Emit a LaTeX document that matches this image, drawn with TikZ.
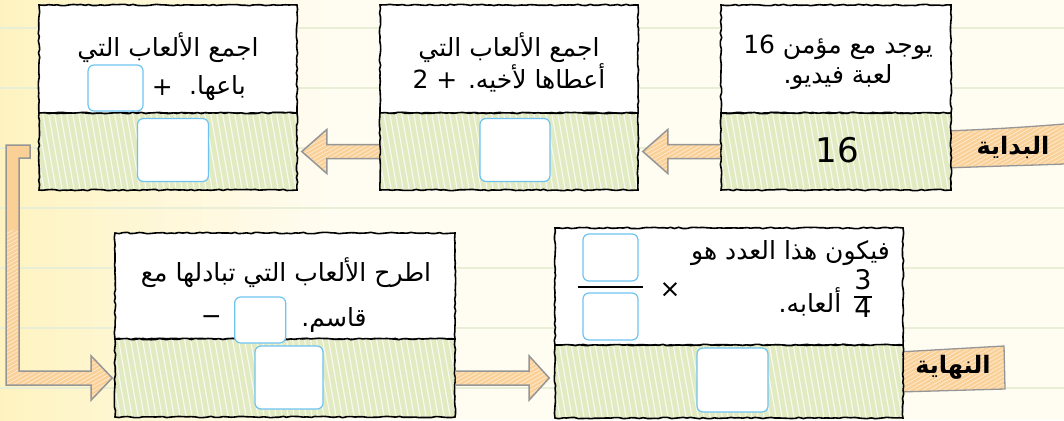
\documentclass[tikz,border=0pt]{standalone}
\usepackage{fontspec}
\setmainfont{DejaVu Sans}
\newfontfamily\arabicfont[Script=Arabic]{DejaVu Sans}
\TeXXeTstate=1
\usetikzlibrary{positioning,calc,decorations.pathmorphing}

\definecolor{paper}{RGB}{255,252,241}
\definecolor{paperyel}{RGB}{254,243,192}
\definecolor{paperline}{RGB}{232,239,214}
\definecolor{grass}{RGB}{226,234,194}
\definecolor{tape}{RGB}{250,208,150}
\definecolor{tapeedge}{RGB}{150,150,150}
\definecolor{answer}{RGB}{110,196,240}

\tikzset{
  wobbly/.style={decorate,decoration={random steps,segment length=4pt,amplitude=.7pt}},
  question/.style={draw,line width=1.6pt,wobbly,fill=white,inner sep=0pt},
  result/.style={draw,line width=1.6pt,wobbly,fill=grass,inner sep=0pt,
    path picture={\foreach \k in {0,...,62}
      \draw[white,line width=1.2pt,opacity=.75]
        ([xshift=\k*6pt]path picture bounding box.south west) -- ++(-16pt,90pt);}},
  hatch/.style={path picture={\foreach \k in {0,...,60}
      \draw[white,line width=.9pt,opacity=.5]
        ([xshift=\k*7pt-300pt]path picture bounding box.south west) -- ++(300pt,170pt);}},
  tape/.style={draw=tapeedge,line width=1.5pt,fill=tape,line join=miter,hatch},
  answerbox/.style={draw=answer,line width=1.2pt,fill=white,rounded corners=6pt,inner sep=0pt},
  say/.style={font=\arabicfont\fontsize{25}{30}\selectfont,align=center,inner sep=0pt},
  flag/.style={font=\arabicfont\bfseries\fontsize{24}{26}\selectfont,inner sep=0pt},
}

% fat arrow pointing left, from #1 (a west anchor) to #2 (an east anchor)
\newcommand\tapeleft[2]{%
  \draw[tape] let \p1=(#1), \p2=(#2) in
    (\x1,\y1+7pt) -- (\x2+29pt,\y1+7pt) -- (\x2+29pt,\y1+22pt) -- (\x2+4pt,\y1)
    -- (\x2+29pt,\y1-22pt) -- (\x2+29pt,\y1-7pt) -- (\x1,\y1-7pt);}
% fat arrow pointing right
\newcommand\taperight[2]{%
  \draw[tape] let \p1=(#1), \p2=(#2) in
    (\x1,\y1+7pt) -- (\x2-25pt,\y1+7pt) -- (\x2-25pt,\y1+22pt) -- (\x2-5pt,\y1)
    -- (\x2-25pt,\y1-22pt) -- (\x2-25pt,\y1-7pt) -- (\x1,\y1-7pt);}

\begin{document}
\begin{tikzpicture}[x=1pt,y=-1pt]
\pgfmathsetseed{7}
\useasboundingbox (0,0) rectangle (1064,420);
%%%%%%%%%%%%%%%%% paper %%%%%%%%%%%%%%%%%%%
\fill[paper] (0,0) rectangle (1064,420);
\shade[left color=paperyel,right color=paper] (0,0) rectangle (330,420);
\foreach \y in {28,88,...,388}
  \draw[paperline,line width=1.5pt] (0,\y) -- (1064,\y);

%%%%%%%%%%%%%%%%% flags %%%%%%%%%%%%%%%%%%%
\path[fill=tape,hatch] (945,131) .. controls (1000,129) and (1040,126) .. (1064,124)
  -- (1064,164) .. controls (1040,165) and (1000,166) .. (945,168) -- cycle;
\draw[tapeedge,line width=1.3pt] (945,131) .. controls (1000,129) and (1040,126) .. (1064,124);
\draw[tapeedge,line width=1.3pt] (945,168) .. controls (1000,166) and (1040,165) .. (1064,164);
\node[flag] (startflag) at (1013,147) {\beginR البداية\endR};

\path[fill=tape,hatch] (898,352) -- (1004,346) -- (1005,389) -- (898,392) -- cycle;
\draw[tapeedge,line width=1.3pt] (898,352) -- (1004,346) -- (1005,389) -- (898,392);
\node[flag] (endflag) at (953,367) {\beginR النهاية\endR};

%%%%%%%%%%%%%%%%% boxes %%%%%%%%%%%%%%%%%%%
%  name / centre x / width
\foreach \name/\cx/\w in {start/836/230,gave/509/258,sold/168/258} {
  \node[question,minimum width=\w pt,minimum height=108pt] (\name-q) at (\cx,59) {};
  \node[result,minimum width=\w pt,minimum height=77pt] (\name-a) at (\cx,151.5) {};
}
\node[question,minimum width=340pt,minimum height=106pt] (traded-q) at (285,286) {};
\node[result,minimum width=340pt,minimum height=78pt] (traded-a) at (285,378) {};
\node[question,minimum width=348pt,minimum height=117pt] (final-q) at (729,286.5) {};
\node[result,minimum width=348pt,minimum height=73pt] (final-a) at (729,381.5) {};

%%%%%%%%%%%%%%%%% texts %%%%%%%%%%%%%%%%%%%
\node[say] (start-text) at (838,62.5)
  {\beginR يوجد مع مؤمن 16\endR\\\beginR لعبة فيديو.\endR};
\node[font=\fontsize{34}{34}\selectfont,inner sep=0pt] (start-value) at (837,150) {16};

\node[say] (gave-text) at (509,62.5)
  {\beginR اجمع الألعاب التي\endR\\\beginR أعطاها لأخيه. + 2\endR};
\node[answerbox,minimum width=70pt,minimum height=63pt] (gave-value) at (515,150) {};

\node[say] (sold-text) at (168,48) {\beginR اجمع الألعاب التي\endR};
\node[say] (sold-word) at (217.5,88) {\beginR باعها.\endR};
\node[say,left=16pt of sold-word] (sold-plus) {+};
\node[answerbox,minimum width=55pt,minimum height=46pt,left=8pt of sold-plus] (sold-gap) {};
\node[answerbox,minimum width=71pt,minimum height=63pt] (sold-value) at (173,150) {};

\node[say] (traded-text) at (286,273) {\beginR اطرح الألعاب التي تبادلها مع\endR};
\node[say] (traded-word) at (334,320) {\beginR قاسم.\endR};
\node[answerbox,minimum width=51pt,minimum height=46pt,left=15pt of traded-word] (traded-gap) {};
\node[say,left=12pt of traded-gap] (traded-minus) {−};
\node[answerbox,minimum width=68pt,minimum height=63pt] (traded-value) at (289,377.5) {};

\node[say,anchor=east] (final-text) at (890,253) {\beginR فيكون هذا العدد هو\endR};
\node[say] (final-word) at (810,302) {\beginR ألعابه.\endR};
\node[font=\fontsize{27}{30}\selectfont,inner sep=0pt] (final-quarter) at (863,297)
  {\renewcommand\arraystretch{0.8}\setlength\arrayrulewidth{1.4pt}%
   \begin{tabular}{@{}c@{}}3\\\hline 4\end{tabular}};
\node[say] (final-times) at (670,290) {×};
\node[answerbox,minimum width=55pt,minimum height=47pt] (final-top) at (610.5,257.5) {};
\node[answerbox,minimum width=55pt,minimum height=47pt] (final-bottom) at (610.5,316.5) {};
\coordinate (bar-left) at (578,287);
\coordinate (bar-right) at (643,287);
\draw[line width=1.3pt] (bar-left) -- (bar-right);
\node[answerbox,minimum width=71pt,minimum height=64pt] (final-value) at (732.5,380) {};

%%%%%%%%%%%%%%%%% arrows %%%%%%%%%%%%%%%%%%%
\tapeleft{start-a.west}{gave-a.east}
\tapeleft{gave-a.west}{sold-a.east}
\draw[tape] let \p1=(sold-a.west), \p2=(traded-a.west) in
  (\x1-8pt,\y1+6.5pt) -- (\x1-32pt,\y1+6.5pt) -- (\x1-32pt,\y2-7pt) -- (\x2-23pt,\y2-7pt)
  -- (\x2-23pt,\y2-22pt) -- (\x2-2pt,\y2) -- (\x2-23pt,\y2+22pt) -- (\x2-23pt,\y2+7pt)
  -- (\x1-19pt,\y2+7pt) -- (\x1-19pt,\y1-6.5pt) -- (\x1-8pt,\y1-6.5pt) -- cycle;
\taperight{traded-a.east}{final-a.west}
\end{tikzpicture}
\end{document}
